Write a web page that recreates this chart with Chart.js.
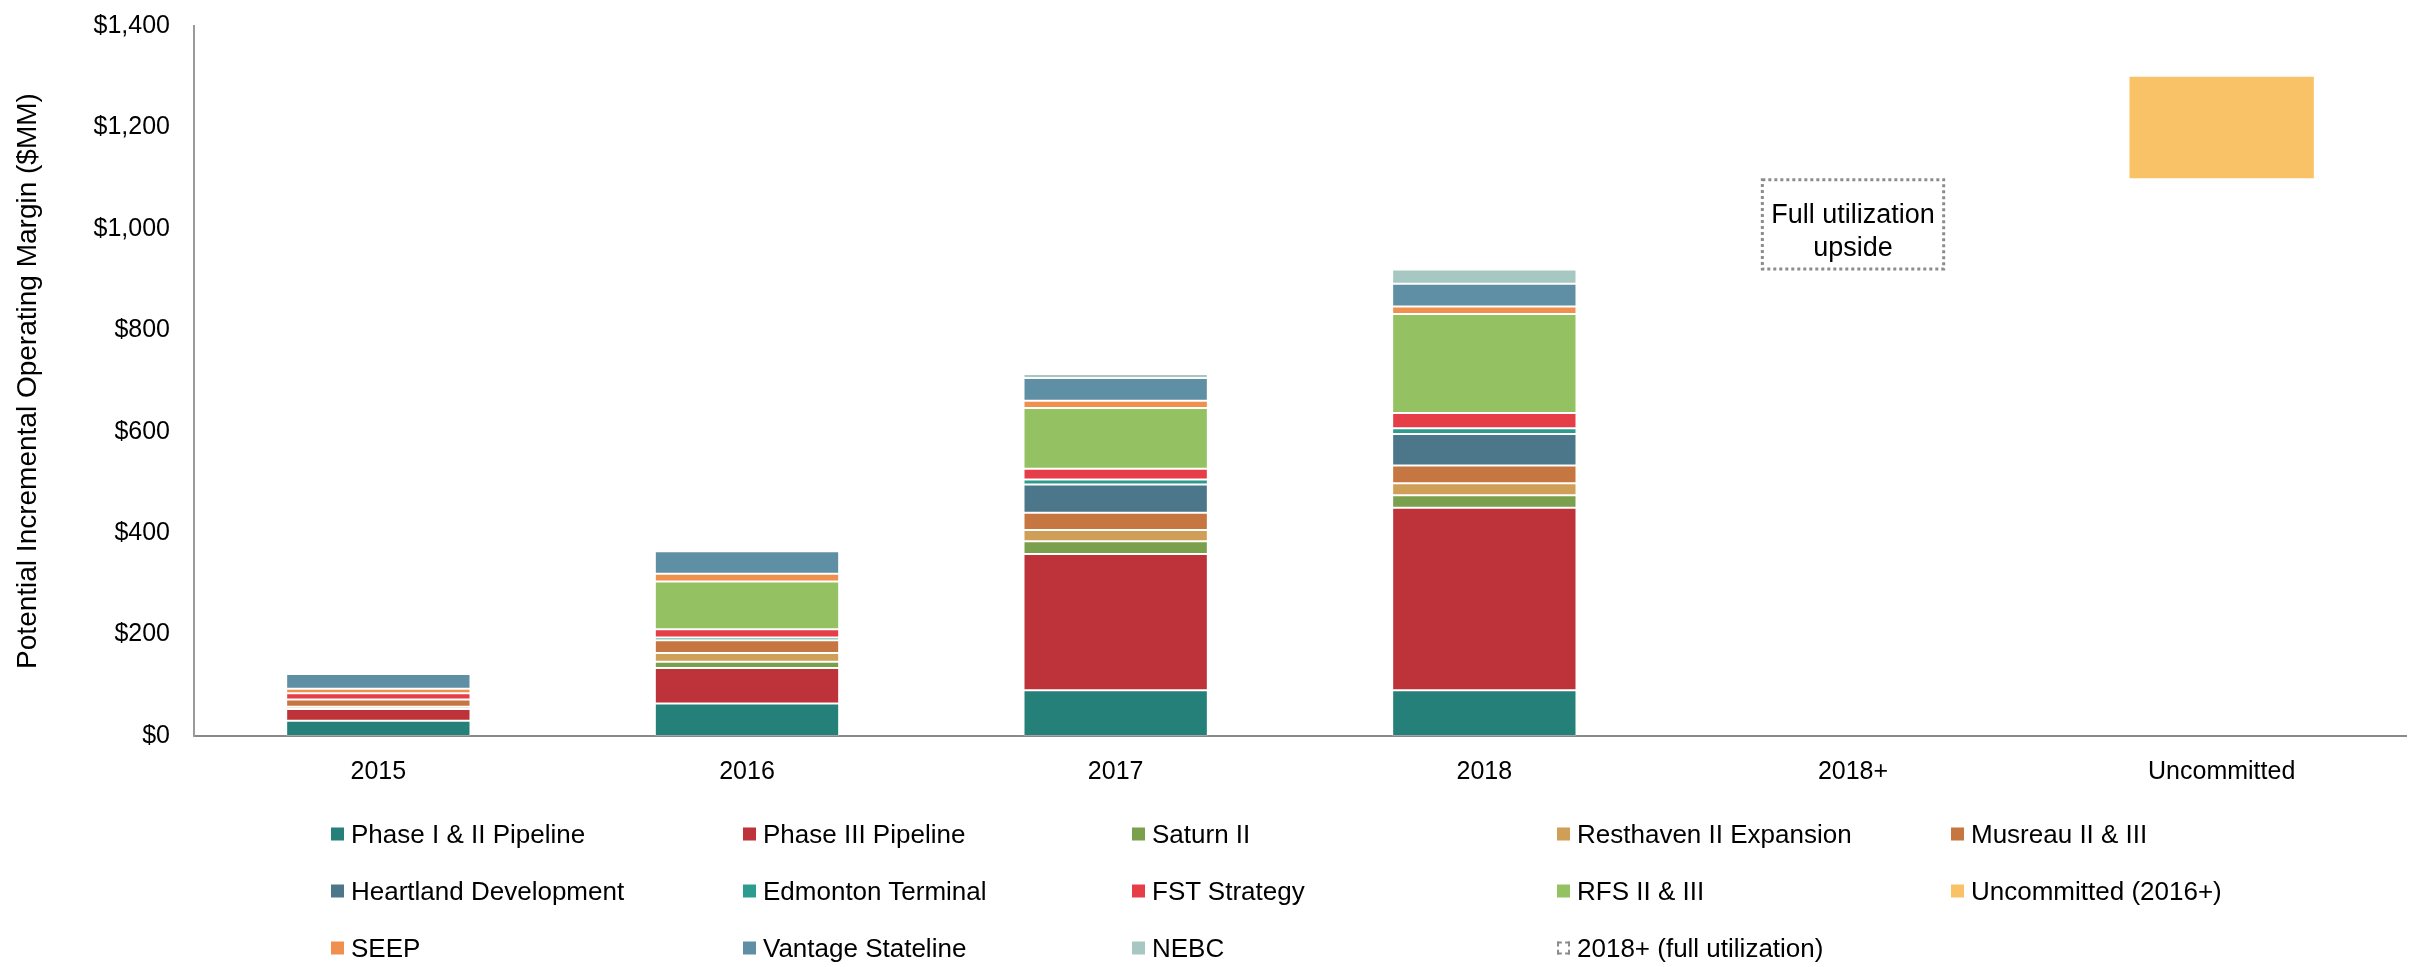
<!DOCTYPE html>
<html><head><meta charset="utf-8">
<script src="https://cdn.jsdelivr.net/npm/chart.js@4.4.1/dist/chart.umd.min.js"></script>
<style>
html,body{margin:0;padding:0;background:#fff;}
#wrap{position:relative;width:2418px;height:967px;}
#c{position:absolute;left:0;top:0;}
#legend{position:absolute;left:0;top:0;width:2418px;height:967px;pointer-events:none;font-family:"Liberation Sans",Arial,sans-serif;}
.li{position:absolute;display:flex;align-items:center;white-space:nowrap;font-size:26px;color:#000;transform:translateY(-50%);}
.sw{width:13px;height:13px;margin-right:7px;box-sizing:border-box;flex:none;}
</style></head><body>
<div id="wrap"><canvas id="c" width="2418" height="967"></canvas><div id="legend"></div></div>
<script>
// ---- data ----
const categories = ['2015', '2016', '2017', '2018', '2018+', 'Uncommitted'];
const phase12     = [30,   64,   90,    90,    null, null];
const phase3      = [23,   70,   269,   360,   null, null];
const saturn2     = [null, 12.5, 25,    24.5,  null, null];
const resthaven   = [4.5,  17,   22,    24,    null, null];
const musreau     = [14.5, 25.5, 34,    35,    null, null];
const heartland   = [null, null, 56,    62,    null, null];
const edmonton    = [null, 5,    10,    11.5,  null, null];
const fst         = [12.5, 16.5, 21,    30,    null, null];
const rfs         = [null, 94,   120,   195,   null, null];
const uncommitted = [null, null, null,  null,  null, [1100, 1300]];
const seep        = [8.5,  15.5, 14,    15,    null, null];
const vantage     = [29.5, 44.5, 45,    45,    null, null];
const nebc        = [null, null, 8,     28,    null, null];
const fullUtil    = [null, null, null,  null,  [918, 1100], null];
const boxText     = ['Full utilization', 'upside'];
const yMin = 0, yMax = 1400, yStep = 200;

const FONT = '"Liberation Sans", Arial, sans-serif';
Chart.defaults.font.family = FONT;
Chart.defaults.color = '#000';

const seg = (label, data, color) => ({
  label, data, backgroundColor: color,
  borderColor: 'rgba(255,255,255,0.22)', borderWidth: 1, borderSkipped: false
});

const datasets = [
  seg('Phase I & II Pipeline', phase12, '#26807a'),
  seg('Phase III Pipeline', phase3, '#be3339'),
  seg('Saturn II', saturn2, '#7ba04d'),
  seg('Resthaven II Expansion', resthaven, '#d09f57'),
  seg('Musreau II & III', musreau, '#c57641'),
  seg('Heartland Development', heartland, '#4c7689'),
  seg('Edmonton Terminal', edmonton, '#2e9b8f'),
  seg('FST Strategy', fst, '#e53e49'),
  seg('RFS II & III', rfs, '#94c262'),
  {label: 'Uncommitted (2016+)', data: uncommitted, backgroundColor: '#fac266', borderWidth: 0},
  seg('SEEP', seep, '#f0904f'),
  seg('Vantage Stateline', vantage, '#5f8fa5'),
  seg('NEBC', nebc, '#a7c8c2'),
  {label: '2018+ (full utilization)', data: fullUtil, backgroundColor: 'rgba(255,255,255,0)', borderWidth: 0, dashedBox: true}
];

const dashedBoxPlugin = {
  id: 'dashedBox',
  afterDatasetsDraw(chart) {
    const ctx = chart.ctx;
    chart.data.datasets.forEach((ds, di) => {
      if (!ds.dashedBox) return;
      const meta = chart.getDatasetMeta(di);
      meta.data.forEach((el, i) => {
        if (ds.data[i] == null) return;
        const p = el.getProps(['x', 'y', 'base', 'width'], true);
        const top = Math.min(p.y, p.base), bot = Math.max(p.y, p.base);
        const left = p.x - p.width / 2, right = p.x + p.width / 2;
        ctx.save();
        ctx.strokeStyle = '#8c8c8c';
        ctx.lineWidth = 3;
        ctx.setLineDash([3, 3]);
        ctx.strokeRect(left + 1.5, top + 1.5, right - left - 3, bot - top - 3);
        ctx.setLineDash([]);
        ctx.fillStyle = '#000';
        ctx.font = '27px ' + FONT;
        ctx.textAlign = 'center';
        ctx.textBaseline = 'alphabetic';
        const h = bot - top;
        ctx.fillText(boxText[0], p.x, top + h * 0.49);
        ctx.fillText(boxText[1], p.x, top + h * 0.84);
        ctx.restore();
      });
    });
  }
};

const chart = new Chart(document.getElementById('c'), {
  type: 'bar',
  data: {labels: categories, datasets},
  options: {
    responsive: false,
    animation: false,
    layout: {padding: {top: 26, right: 12, bottom: 171, left: 0}},
    plugins: {legend: {display: false}, tooltip: {enabled: false}},
    datasets: {bar: {categoryPercentage: 1, barPercentage: 0.5}},
    scales: {
      x: {
        stacked: true,
        grid: {display: false, drawTicks: false},
        border: {display: true, color: '#898989', width: 2},
        ticks: {padding: 21, font: {size: 25}, color: '#000'},
        afterFit(s) { s.height = 60; s.paddingLeft = 0; s.paddingRight = 0; }
      },
      y: {
        stacked: true,
        min: yMin, max: yMax,
        grid: {display: false, drawTicks: false},
        border: {display: true, color: '#9a9a9a', width: 2},
        ticks: {stepSize: yStep, padding: 24, font: {size: 25}, color: '#000',
          callback: v => '$' + Number(v).toLocaleString('en-US')},
        title: {display: true, text: 'Potential Incremental Operating Margin ($MM)',
          font: {size: 28}, color: '#000', padding: {top: 11, bottom: 0}},
        afterFit(s) { s.width = 194; s.paddingTop = 0; s.paddingBottom = 0; }
      }
    }
  },
  plugins: [dashedBoxPlugin]
});

// ---- HTML legend built from the chart's own legend items ----
const colLeft = [331, 743, 1132, 1557, 1951];
const rowMid = [834, 891, 948];
const legendEl = document.getElementById('legend');
const items = Chart.defaults.plugins.legend.labels.generateLabels(chart);
items.forEach((it, i) => {
  const ds = chart.data.datasets[it.datasetIndex];
  const div = document.createElement('div');
  div.className = 'li';
  div.style.left = colLeft[i % 5] + 'px';
  div.style.top = rowMid[Math.floor(i / 5)] + 'px';
  const sw = document.createElement('span');
  sw.className = 'sw';
  if (ds.dashedBox) {
    sw.style.border = '2px dashed #8c8c8c';
    sw.style.background = '#fff';
  } else {
    sw.style.background = ds.backgroundColor;
  }
  div.appendChild(sw);
  div.appendChild(document.createTextNode(it.text));
  legendEl.appendChild(div);
});
</script>
</body></html>
